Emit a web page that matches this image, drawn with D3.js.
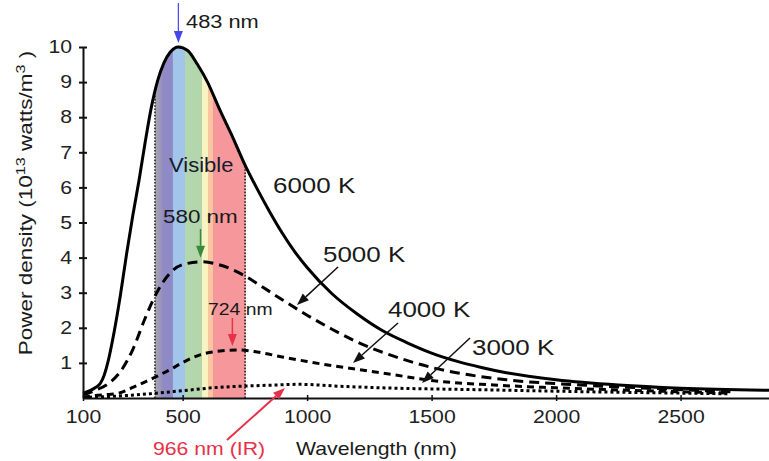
<!DOCTYPE html>
<html>
<head>
<meta charset="utf-8">
<script src="https://cdn.jsdelivr.net/npm/d3@7"></script>
<style>
  body { margin: 0; background: #fff; }
  svg { display: block; font-family: "Liberation Sans", Arial, Helvetica, sans-serif; }
</style>
</head>
<body>
<div id="chart"></div>
<script>
// values (wavelength in nm, power density in 10^13 W/m^3)
var nm6000 = [100, 130, 150, 170, 185, 200, 225, 250, 275, 300, 325, 350, 375, 400, 425, 450, 483, 520, 560, 600, 650, 700, 750, 800, 850, 900, 950, 1000, 1100, 1200, 1300, 1400, 1500, 1600, 1700, 1800, 2000, 2250, 2500, 2855];
var pd6000 = [0.14, 0.22, 0.30, 0.42, 0.65, 1.02, 1.88, 2.92, 4.10, 5.20, 6.20, 7.30, 8.30, 9.05, 9.55, 9.85, 10.0, 9.90, 9.50, 9.00, 8.20, 7.45, 6.65, 5.95, 5.30, 4.70, 4.17, 3.72, 2.97, 2.40, 1.93, 1.58, 1.28, 1.05, 0.87, 0.72, 0.52, 0.37, 0.28, 0.22];

var nm5000 = [100, 150, 200, 250, 300, 350, 400, 450, 500, 580, 650, 700, 750, 800, 900, 1000, 1100, 1200, 1300, 1400, 1500, 1600, 1800, 2100, 2400, 2700];
var pd5000 = [0.09, 0.22, 0.40, 0.75, 1.38, 2.28, 3.05, 3.56, 3.80, 3.88, 3.79, 3.66, 3.48, 3.26, 2.80, 2.36, 1.96, 1.60, 1.31, 1.07, 0.87, 0.72, 0.52, 0.37, 0.27, 0.18];

var nm4000 = [100, 150, 200, 250, 300, 350, 400, 450, 500, 570, 650, 724, 800, 900, 1000, 1100, 1200, 1350, 1500, 1750, 2000, 2250, 2700];
var pd4000 = [0.02, 0.07, 0.10, 0.15, 0.30, 0.46, 0.63, 0.81, 1.01, 1.23, 1.34, 1.37, 1.31, 1.17, 1.04, 0.92, 0.82, 0.66, 0.50, 0.37, 0.29, 0.23, 0.14];

var nm3000 = [100, 250, 369, 503, 637, 751, 878, 966, 1145, 1480, 1574, 2109, 2698];
var pd3000 = [0.02, 0.06, 0.12, 0.21, 0.30, 0.34, 0.37, 0.39, 0.33, 0.26, 0.25, 0.18, 0.12];

var temps = ["6000 K", "5000 K", "4000 K", "3000 K"];
var peakNm = [483, 580, 724, 966];

// visible band edges (nm)
var bandNm = [389, 421, 461, 510, 578, 602, 622, 751];
var bandFill = ["url(#violetGrad)", "#8f8ac6", "#a2c5ea", "#b4d6ad", "#f8f3c0", "#f9c6a2", "#f6989b"];

var xTicks = [100, 500, 1000, 1500, 2000, 2500];
var yTicks = [1, 2, 3, 4, 5, 6, 7, 8, 9, 10];

var w = 769, h = 461;
var sx = 1.18; // the picture's lettering is a bit wide

var svg = d3.select("#chart").append("svg")
  .attr("width", w)
  .attr("height", h);

var x = d3.scaleLinear().domain([100, 2855]).range([83, 769]);
var y = d3.scaleLinear().domain([0, 10]).range([398, 47]);

function pts(a, b) {
  return a.map(function(d, i) { return [d, b[i]]; });
}
var c6000 = pts(nm6000, pd6000),
    c5000 = pts(nm5000, pd5000),
    c4000 = pts(nm4000, pd4000),
    c3000 = pts(nm3000, pd3000);

var line = d3.line()
  .x(function(d) { return x(d[0]); })
  .y(function(d) { return y(d[1]); })
  .curve(d3.curveMonotoneX);

var area = d3.area()
  .x(function(d) { return x(d[0]); })
  .y0(y(0))
  .y1(function(d) { return y(d[1]); })
  .curve(d3.curveMonotoneX);

var defs = svg.append("defs");
var grad = defs.append("linearGradient").attr("id", "violetGrad");
grad.append("stop").attr("offset", "0%").attr("stop-color", "#a9a6ad");
grad.append("stop").attr("offset", "100%").attr("stop-color", "#938bc2");
defs.append("clipPath").attr("id", "under6000")
  .append("path").attr("d", area(c6000));

// visible spectrum strips under the 6000 K curve
var band = svg.append("g").attr("clip-path", "url(#under6000)");
band.selectAll("rect")
  .data(bandFill)
  .enter()
  .append("rect")
  .attr("x", function(d, i) { return x(bandNm[i]); })
  .attr("width", function(d, i) { return x(bandNm[i + 1]) - x(bandNm[i]) + 0.5; })
  .attr("y", y(10.5))
  .attr("height", y(0) - y(10.5))
  .attr("fill", function(d) { return d; });
band.selectAll("line")
  .data([bandNm[0], bandNm[bandNm.length - 1]])
  .enter()
  .append("line")
  .attr("x1", function(d) { return x(d); })
  .attr("x2", function(d) { return x(d); })
  .attr("y1", y(0))
  .attr("y2", y(10.5))
  .attr("stroke", "#222")
  .attr("stroke-width", 1.6)
  .attr("stroke-dasharray", "1.6,1.6");

// curves
var curves = [
  { pts: c3000, dash: "3,3" },
  { pts: c4000, dash: "7,5" },
  { pts: c5000, dash: "10,6" },
  { pts: c6000, dash: null }
];
svg.selectAll(".curve")
  .data(curves)
  .enter()
  .append("path")
  .attr("class", "curve")
  .attr("d", function(d) { return line(d.pts); })
  .attr("fill", "none")
  .attr("stroke", "#000")
  .attr("stroke-width", 3)
  .attr("stroke-dasharray", function(d) { return d.dash; });

// axes
var gx = svg.append("g")
  .attr("transform", "translate(0," + y(0) + ")")
  .call(d3.axisBottom(x).tickValues(xTicks).tickFormat(d3.format("d")).tickSize(3).tickSizeOuter(0));
gx.attr("font-family", null).attr("font-size", 18);
gx.select(".domain").attr("stroke", "#111").attr("stroke-width", 2);
gx.selectAll(".tick line").attr("y1", -3).attr("y2", 3).attr("stroke", "#111").attr("stroke-width", 1.5);
gx.selectAll(".tick text")
  .attr("y", 0).attr("dy", 0)
  .attr("fill", "#222")
  .attr("transform", "translate(0,25) scale(" + sx + ",1)");

var gy = svg.append("g")
  .attr("transform", "translate(" + x(100) + ",0)")
  .call(d3.axisLeft(y).tickValues(yTicks).tickSize(4).tickSizeOuter(0));
gy.attr("font-family", null).attr("font-size", 18);
gy.select(".domain").attr("stroke", "#111").attr("stroke-width", 2);
gy.selectAll(".tick line").attr("x1", -4).attr("x2", 4).attr("stroke", "#111").attr("stroke-width", 2);
gy.selectAll(".tick text")
  .attr("x", 0)
  .attr("fill", "#222")
  .attr("transform", "translate(-11,0) scale(" + sx + ",1)");

// text helper
function label(str, px, py, size, color, stretch) {
  return svg.append("text")
    .attr("transform", "translate(" + px + "," + py + ") scale(" + (stretch || sx) + ",1)")
    .attr("font-size", size)
    .attr("fill", color || "#1a1a1a")
    .text(str);
}

function arrow(x1, y1, x2, y2, color, width) {
  var a = Math.atan2(y2 - y1, x2 - x1), len = 12, hw = 4.5;
  var bx = x2 - len * Math.cos(a), by = y2 - len * Math.sin(a);
  svg.append("line")
    .attr("x1", x1).attr("y1", y1).attr("x2", bx).attr("y2", by)
    .attr("stroke", color).attr("stroke-width", width || 1.5);
  svg.append("path")
    .attr("d", "M" + x2 + "," + y2 +
      "L" + (bx + hw * Math.sin(a)) + "," + (by - hw * Math.cos(a)) +
      "L" + (bx - hw * Math.sin(a)) + "," + (by + hw * Math.cos(a)) + "Z")
    .attr("fill", color);
}

// axis titles
var yl = svg.append("text")
  .attr("transform", "translate(32,203) rotate(-90) scale(1.25,1)")
  .attr("text-anchor", "middle")
  .attr("font-size", 18)
  .attr("fill", "#1a1a1a");
yl.append("tspan").text("Power density (10");
yl.append("tspan").attr("font-size", 13).attr("dy", -7).text("13");
yl.append("tspan").attr("dy", 7).text(" watts/m");
yl.append("tspan").attr("font-size", 13).attr("dy", -7).text("3");
yl.append("tspan").attr("dy", 7).text(" )");

label("Wavelength (nm)", 296, 455, 18);
label(peakNm[3] + " nm (IR)", 153, 455, 18, "#e8304a");

// peak markers
label(peakNm[0] + " nm", 186, 28, 18.5);
arrow(x(peakNm[0]), 3, x(peakNm[0]), y(10) - 4, "#4646ea", 1.2);

label("Visible", 169, 172, 20, "#1a1a2e", 1.1);
label(peakNm[1] + " nm", 163, 223, 19);
arrow(x(peakNm[1]) - 2, 229, x(peakNm[1]) - 2, y(3.88) - 4, "#3b8a3b", 1.5);

label(peakNm[2] + " nm", 208, 315, 17, "#1a1a1a", 1.14);
arrow(x(peakNm[2]) - 6, 318, x(peakNm[2]) - 6, y(1.37) - 4, "#e8304a", 1.5);

arrow(227, 440, 285, 388, "#e8304a", 2);

// temperature labels
label(temps[0], 273, 193, 22);
label(temps[1], 323, 262, 22);
arrow(338, 267, 297, 305, "#111", 1.5);
label(temps[2], 388, 317, 22);
arrow(398, 323, 353, 363, "#111", 1.5);
label(temps[3], 472, 355, 22);
arrow(470, 338, 422, 383, "#111", 1.5);
</script>
</body>
</html>
